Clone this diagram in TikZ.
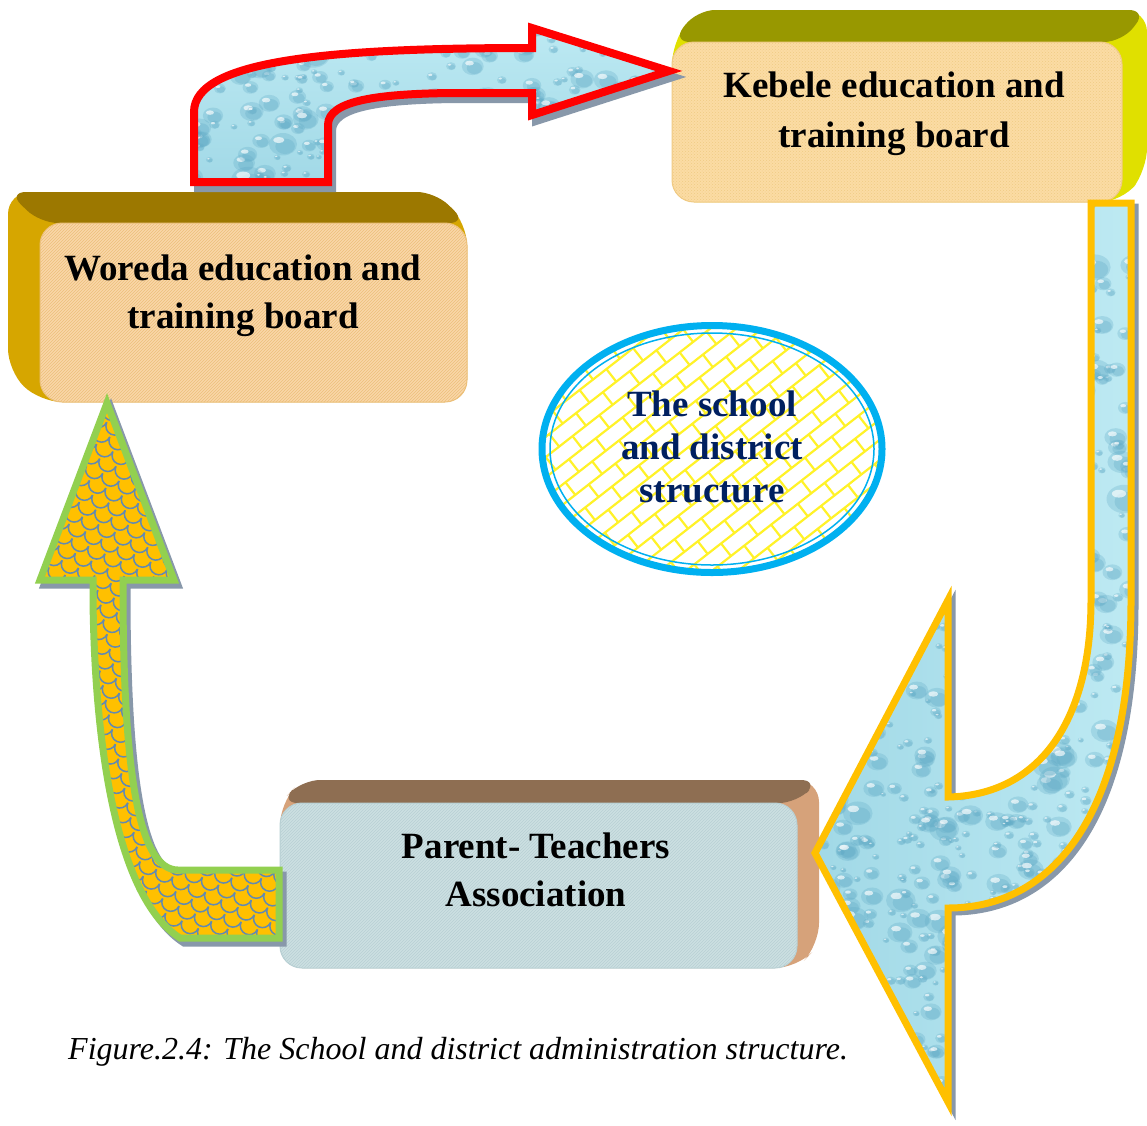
\documentclass[tikz,border=0pt]{standalone}
\usepackage{fontspec}
\setmainfont{Liberation Serif}
\usetikzlibrary{patterns}

% block colours
\definecolor{woredaTop}{RGB}{156,120,0}
\definecolor{woredaSide}{RGB}{214,166,0}
\definecolor{woredaFront}{RGB}{250,214,168}
\definecolor{woredaHatch}{RGB}{236,192,122}
\definecolor{kebeleTop}{RGB}{152,152,0}
\definecolor{kebeleSide}{RGB}{224,224,0}
\definecolor{kebeleFront}{RGB}{251,220,164}
\definecolor{kebeleDots}{RGB}{240,202,132}
\definecolor{ptaTop}{RGB}{142,110,82}
\definecolor{ptaSide}{RGB}{214,162,122}
\definecolor{ptaFront}{RGB}{204,224,226}
\definecolor{ptaHatch}{RGB}{184,208,212}
% arrow colours
\definecolor{waterLight}{RGB}{190,234,243}
\definecolor{waterMid}{RGB}{160,216,230}
\definecolor{waterDark}{RGB}{96,170,198}
\definecolor{arrowRed}{RGB}{255,0,0}
\definecolor{arrowGold}{RGB}{255,192,0}
\definecolor{arrowGreen}{RGB}{146,208,80}
\definecolor{scaleLine}{RGB}{98,138,178}
\definecolor{shadowGray}{RGB}{136,152,170}
% centre ellipse
\definecolor{ringBlue}{RGB}{0,176,240}
\definecolor{brickYellow}{RGB}{255,242,40}
\definecolor{navyText}{RGB}{0,32,96}

% outlines of the three block arrows
\newcommand\RedArrowPath{(194,182) -- (194,112) .. controls (194,60) and (330,48) .. (532,48) -- (532,28) -- (669,71) -- (532,115) -- (532,93) -- (450,93) .. controls (380,94) and (328,100) .. (328,125) -- (328,182) -- cycle}
\newcommand\GoldArrowPath{(1091,203) -- (1131,203) -- (1131,600) .. controls (1131,820) and (1050,908) .. (948,908) -- (948,1102) -- (815,853) -- (948,600) -- (948,797) .. controls (1040,795) and (1091,720) .. (1091,600) -- cycle}
\newcommand\GreenArrowPath{(107,403) -- (174,580) -- (123,580) -- (123,600) .. controls (124,780) and (140,870) .. (178,870) -- (279,870) -- (279,938) -- (180,938) .. controls (120,900) and (95,760) .. (93,600) -- (93,580) -- (40,580) -- cycle}

% water-drop texture inside a clipped region
\newcommand\WaterDrops[5]{%
  \foreach \k in {1,...,#5}{%
    \pgfmathsetmacro\dx{#1+rnd*(#3-#1)}%
    \pgfmathsetmacro\dy{#2+rnd*(#4-#2)}%
    \pgfmathsetmacro\dr{3+rnd*rnd*15}%
    \fill[waterDark, opacity=0.28] (\dx,\dy) ellipse [x radius=\dr pt, y radius=0.8*\dr pt];
    \fill[waterDark, opacity=0.3] (\dx+0.15*\dr,\dy+0.15*\dr) ellipse [x radius=0.7*\dr pt, y radius=0.55*\dr pt];
    \fill[white, opacity=0.65] (\dx-0.3*\dr,\dy-0.3*\dr) ellipse [x radius=0.4*\dr pt, y radius=0.22*\dr pt];
  }}

\tikzset{
  boxtext/.style={font=\fontsize{37}{44}\selectfont\bfseries, inner sep=0pt, anchor=base},
  ovaltext/.style={font=\fontsize{37}{44}\selectfont\bfseries, text=navyText, inner sep=0pt, anchor=base},
  captiontext/.style={font=\fontsize{32}{38}\selectfont\itshape, inner sep=0pt, anchor=base west},
  frontface/.style={rounded corners=22pt, line width=1pt},
}

\begin{document}
\begin{tikzpicture}[x=1pt, y=-1pt, line join=miter]
\useasboundingbox[fill=white] (0,0) rectangle (1147,1125);

% ---- Woreda block (depth towards upper left)
\fill[woredaSide, rounded corners=22pt] (8,192) -- (435,192) -- (467,223) -- (467,402) -- (40,402) -- (8,371) -- cycle;
\fill[woredaTop, rounded corners=18pt] (8,192) -- (435,192) -- (467,223) -- (40,223) -- cycle;
\path[frontface, fill=woredaFront, draw=woredaHatch] (40,223) rectangle (467,402);
\fill[frontface, pattern=north east lines, pattern color=woredaHatch] (40,223) rectangle (467,402);

% ---- Kebele block (depth towards upper right)
\fill[kebeleSide, rounded corners=22pt] (672,42) -- (697,10) -- (1147,10) -- (1147,170) -- (1122,202) -- (672,202) -- cycle;
\fill[kebeleTop, rounded corners=18pt] (672,42) -- (697,10) -- (1147,10) -- (1122,42) -- cycle;
\path[frontface, fill=kebeleFront, draw=kebeleDots] (672,42) rectangle (1122,202);
\fill[frontface, pattern=crosshatch dots, pattern color=kebeleDots] (672,42) rectangle (1122,202);

% ---- Parent-Teachers block (depth towards upper right)
\fill[ptaSide, rounded corners=22pt] (280,803) -- (302,780) -- (819,780) -- (819,945) -- (797,968) -- (280,968) -- cycle;
\fill[ptaTop, rounded corners=18pt] (280,803) -- (302,780) -- (819,780) -- (797,803) -- cycle;
\path[frontface, fill=ptaFront, draw=ptaHatch] (280,803) rectangle (797,968);
\fill[frontface, pattern=north east lines, pattern color=ptaHatch] (280,803) rectangle (797,968);

% ---- centre ellipse with brick texture
\fill[white] (712,449) ellipse [x radius=170pt, y radius=123.5pt];
\begin{scope}
  \clip (712,449) ellipse [x radius=168pt, y radius=121pt];
  \begin{scope}[rotate around={38:(712,449)}]
    \foreach \r in {-15,...,15}{
      \draw[brickYellow, line width=2.2pt] (482,449+\r*16) -- (942,449+\r*16);
      \foreach \c in {-7,...,7}{
        \pgfmathsetmacro\bx{712+\c*34+mod(\r+20,2)*17}
        \draw[brickYellow, line width=2.2pt] (\bx,449+\r*16) -- (\bx,465+\r*16);
      }}
  \end{scope}
\end{scope}
\draw[ringBlue, line width=7pt] (712,449) ellipse [x radius=170pt, y radius=123.5pt];
\draw[ringBlue, line width=1.5pt] (712,449) ellipse [x radius=162pt, y radius=116pt];

% ---- red arrow: Woreda -> Kebele
\filldraw[shadowGray, line width=8pt, shift={(4,6)}] \RedArrowPath;
\begin{scope}
  \clip \RedArrowPath;
  \shade[top color=waterLight, bottom color=waterMid] (180,20) rectangle (690,190);
  \pgfmathsetseed{17}
  \WaterDrops{180}{20}{690}{190}{320}
\end{scope}
\draw[arrowRed, line width=8pt] \RedArrowPath;

% ---- gold arrow: Kebele -> Parent-Teachers
\filldraw[shadowGray, line width=7pt, shift={(4,4)}] \GoldArrowPath;
\begin{scope}
  \clip \GoldArrowPath;
  \shade[left color=waterMid, right color=waterLight] (805,195) rectangle (1140,1120);
  \pgfmathsetseed{29}
  \WaterDrops{805}{195}{1140}{1120}{900}
\end{scope}
\draw[arrowGold, line width=7pt] \GoldArrowPath;

% ---- green arrow: Parent-Teachers -> Woreda
\filldraw[shadowGray, line width=7pt, shift={(4,5)}] \GreenArrowPath;
\begin{scope}
  \clip \GreenArrowPath;
  \fill[arrowGold] (30,390) rectangle (290,950);
  \begin{scope}[rotate around={-25:(160,670)}]
    \foreach \r in {0,...,52}{
      \foreach \c in {0,...,22}{
        \pgfmathsetmacro\sx{-20+\c*18+mod(\r,2)*9}
        \pgfmathsetmacro\sy{360+\r*12}
        \draw[scaleLine, line width=1.5pt] (\sx,\sy) arc[start angle=0, end angle=-180, radius=9pt];
      }}
  \end{scope}
\end{scope}
\draw[arrowGreen, line width=7pt] \GreenArrowPath;

% ---- labels
\node[boxtext] (woredaA) at (243,280) {Woreda education and};
\node[boxtext] (woredaB) at (243,328) {training board};
\node[boxtext] (kebeleA) at (894,97) {Kebele education and};
\node[boxtext] (kebeleB) at (894,147) {training board};
\node[boxtext] (ptaA) at (536,858) {Parent- Teachers};
\node[boxtext] (ptaB) at (536,906) {Association};
\node[ovaltext] (ovalA) at (712,416) {The school};
\node[ovaltext] (ovalB) at (712,459) {and district};
\node[ovaltext] (ovalC) at (712,502) {structure};
\node[captiontext] (caption) at (68,1059) {Figure.2.4: The School and district administration structure.};
\end{tikzpicture}
\end{document}
